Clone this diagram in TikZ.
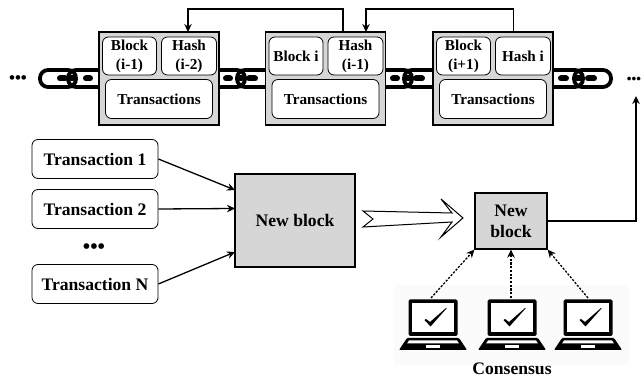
\documentclass[tikz,border=0pt]{standalone}
\usepackage{fontspec}
\setmainfont{Liberation Serif}
\usetikzlibrary{arrows.meta}
\definecolor{blockgray}{HTML}{D6D6D6}
\tikzset{
  x=1pt,y=-1pt,
  every node/.style={font=\bfseries,align=center,inner sep=0pt},
  graybox/.style={draw=black,line width=1.3pt,fill=blockgray},
  ibox/.style={draw=black,line width=0.8pt,fill=white,rounded corners=6pt},
  txbox/.style={ibox,minimum width=126pt,minimum height=39pt,font=\fontsize{17.6}{20}\selectfont\bfseries},
  small/.style={font=\fontsize{15.2}{19}\selectfont\bfseries},
  big/.style={font=\fontsize{17.6}{21}\selectfont\bfseries},
  link/.style={draw=black,line width=3.8pt,rounded corners=8pt},
  linkbar/.style={draw=black,line width=6pt,line cap=round},
  conn/.style={draw=black,line width=1.3pt,-{Stealth[length=8pt,width=7.5pt]}},
  dotconn/.style={conn,dash pattern=on 2.2pt off 1.5pt},
  laptop/.pic={
    \fill[black,rounded corners=1.5pt] (-24.5,-17.5) rectangle (24.5,19);
    \fill[white] (-21,-14) rectangle (21,15.5);
    \fill[black,rounded corners=1pt] (-26,21) -- (26,21) -- (34,33) -- (-34,33) -- cycle;
    \fill[white] (-24,23.5) -- (24,23.5) -- (26,26.5) -- (-26,26.5) -- cycle;
    \fill[white] (-7,28) rectangle (7,31);
    \fill[black] (-8.5,3) -- (-7,2) -- (-3,5) -- (13,-9) -- (13.5,-8.5) -- (-2.5,9.5) -- cycle;
  }
}
\newcommand{\blockset}[4]{% name, left x, left text, right text
  \node[graybox,minimum width=120pt,minimum height=93pt] (#1) at (#2+60,78.5) {};
  \node[ibox,small,minimum width=54pt,minimum height=38pt] (#1b) at (#2+30.5,56) {#3};
  \node[ibox,small,minimum width=55pt,minimum height=38pt] (#1h) at (#2+90,56) {#4};
  \node[ibox,small,minimum width=107pt,minimum height=39pt] (#1t) at (#2+60,99) {Transactions};
}
\begin{document}
\begin{tikzpicture}
\useasboundingbox (0,0) rectangle (641,379);
% chains
\draw[link] (40,70) rectangle (76,87);
\draw[link] (68,70) rectangle (110,87);
\draw[linkbar] (60,78.5) -- (65,78.5);
\draw[linkbar] (86,78.5) -- (90,78.5);
\draw[linkbar] (71,78.5) -- (73,78.5);
\draw[link] (200,70) rectangle (245,87);
\draw[link] (237,70) rectangle (285,87);
\draw[linkbar] (226,78.5) -- (230,78.5);
\draw[linkbar] (249,78.5) -- (255,78.5);
\draw[linkbar] (240,78.5) -- (242,78.5);
\draw[link] (367,70) rectangle (412,87);
\draw[link] (404,70) rectangle (452,87);
\draw[linkbar] (393,78.5) -- (397,78.5);
\draw[linkbar] (416,78.5) -- (422,78.5);
\draw[linkbar] (407,78.5) -- (409,78.5);
\draw[link] (540,70) rectangle (583,87);
\draw[link] (574,70) rectangle (611,87);
\draw[linkbar] (561,78.5) -- (566,78.5);
\draw[linkbar] (588,78.5) -- (594,78.5);
\draw[linkbar] (577,78.5) -- (580,78.5);
% blocks
\blockset{bA}{99}{Block\\(i-1)}{Hash\\(i-2)}
\blockset{bB}{265.5}{Block i}{Hash\\(i-1)}
\blockset{bC}{433}{Block\\(i+1)}{Hash i}
% block links
\coordinate (tA) at (188,32);
\coordinate (fB) at (343,32);
\coordinate (tB) at (366,32);
\coordinate (fC) at (513.5,32);
\draw[conn] (fB) -- (343,9) -- (188,9) -- (tA);
\draw[conn] (fC) -- (513.5,9) -- (366,9) -- (tB);
% dots
\node[font=\fontsize{17}{17}\selectfont\bfseries] (dl) at (18,80) {•••};
\node[font=\fontsize{13.5}{13}\selectfont\bfseries] (dr) at (634,80) {•••};
% transactions
\node[txbox] (t1) at (95,159) {Transaction 1};
\node[txbox] (t2) at (95,209) {Transaction 2};
\node[font=\fontsize{21}{21}\selectfont\bfseries] (td) at (94,249) {•••};
\node[txbox] (tn) at (95,284) {Transaction N};
\node[graybox,big,minimum width=120pt,minimum height=93pt] (nb) at (295,220.5) {New block};
\coordinate (n1) at (235,190);
\coordinate (n2) at (235,208.5);
\coordinate (n3) at (235,252);
\draw[conn] (t1.east) -- (n1);
\draw[conn] (t2.east) -- (n2);
\draw[conn] (tn.east) -- (n3);
% hollow arrow
\draw[line width=1pt,fill=white,line join=miter]
  (363,211) -- (452,213) -- (441,199) -- (463,218) -- (441,237) -- (452,222) -- (363,227) -- (373,219) -- cycle;
% new block
\node[graybox,big,minimum width=72pt,minimum height=56pt] (nn) at (511,221) {New\\block};
\coordinate (up) at (636,96);
\draw[conn] (nn.east) -- (636,221) -- (up);
% consensus
\fill[black!1.5] (394,285) rectangle (629,365);
\pic (l1) at (433,317) {laptop};
\pic (l2) at (512,317) {laptop};
\pic (l3) at (588,317) {laptop};
\coordinate (la) at (431,298);
\coordinate (lb) at (511,298);
\coordinate (lc) at (588,298);
\draw[dotconn] (la) -- (nn.south west);
\draw[dotconn] (lb) -- (nn.south);
\draw[dotconn] (lc) -- (nn.south east);
\node[big] (cs) at (512,369) {Consensus};
\end{tikzpicture}
\end{document}
